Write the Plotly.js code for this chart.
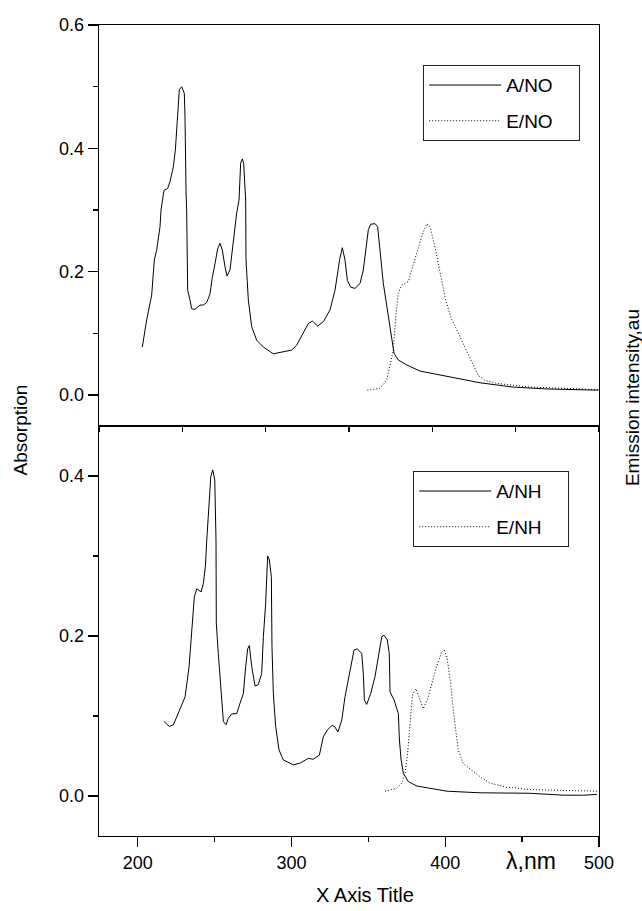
<!DOCTYPE html>
<html>
<head>
<meta charset="utf-8">
<script src="https://cdn.plot.ly/plotly-3.0.1.min.js"></script>
<style>html,body{margin:0;padding:0;background:#fff;}#chart{width:642px;height:911px;}</style>
</head>
<body>
<div id="chart"></div>
<script>
// ---- Top panel (NO): absorption and emission ----
var noAbsX = [226.0, 228.6, 231.6, 233.2, 234.6, 236.6, 237.2, 239.0, 241.2, 242.6,
  244.6, 245.8, 247.0, 248.2, 249.6, 251.2, 251.6, 251.8, 252.2, 252.6,
  252.8, 253.2, 254.6, 255.6, 257.6, 260.6, 262.6, 264.6, 266.6, 268.0,
  269.6, 271.2, 272.6, 274.0, 275.6, 276.8, 278.6, 280.0, 281.0, 282.6,
  284.0, 285.0, 286.0, 286.8, 288.0, 288.2, 289.6, 291.6, 294.6, 298.6,
  304.6, 309.6, 315.6, 318.6, 322.6, 325.6, 328.0, 331.2, 334.6, 338.6,
  341.6, 344.4, 346.0, 347.6, 349.0, 351.0, 353.6, 356.6, 358.6, 360.2,
  361.6, 363.0, 365.6, 367.2, 368.6, 369.6, 370.6, 372.2, 374.0, 375.6,
  377.0, 379.6, 384.6, 392.6, 408.6, 428.6, 448.6, 468.6, 499.6];
var noAbsY = [0.078, 0.122, 0.162, 0.219, 0.235, 0.273, 0.300, 0.332, 0.335, 0.346,
  0.370, 0.397, 0.446, 0.495, 0.500, 0.489, 0.451, 0.381, 0.332, 0.300,
  0.250, 0.170, 0.154, 0.140, 0.139, 0.146, 0.146, 0.150, 0.164, 0.191,
  0.213, 0.237, 0.246, 0.235, 0.208, 0.193, 0.203, 0.235, 0.268, 0.295,
  0.316, 0.376, 0.383, 0.376, 0.316, 0.219, 0.154, 0.111, 0.089, 0.078,
  0.067, 0.070, 0.073, 0.081, 0.100, 0.116, 0.120, 0.112, 0.119, 0.138,
  0.170, 0.220, 0.239, 0.219, 0.186, 0.175, 0.173, 0.181, 0.203, 0.235,
  0.268, 0.277, 0.278, 0.273, 0.240, 0.208, 0.181, 0.154, 0.122, 0.089,
  0.068, 0.057, 0.049, 0.039, 0.030, 0.020, 0.013, 0.010, 0.008];
var noEmX = [361.0, 368.6, 372.6, 375.0, 376.6, 378.0, 379.6, 381.6, 385.6, 387.6,
  390.6, 393.6, 396.6, 398.6, 401.6, 404.6, 407.6, 411.0, 414.2, 418.6,
  423.6, 427.6, 431.6, 438.6, 458.6, 499.6];
var noEmY = [0.008, 0.011, 0.024, 0.051, 0.073, 0.127, 0.165, 0.178, 0.184, 0.203,
  0.230, 0.257, 0.278, 0.273, 0.240, 0.197, 0.159, 0.127, 0.108, 0.084,
  0.054, 0.032, 0.024, 0.019, 0.013, 0.009];

// ---- Bottom panel (NH): absorption and emission ----
var nhAbsX = [217.1, 220.5, 223.2, 226.4, 230.8, 233.4, 235.1, 236.8, 238.4, 241.2,
  242.7, 244.0, 244.9, 245.9, 247.5, 248.8, 250.1, 250.9, 251.1, 252.4,
  254.2, 255.7, 257.4, 258.9, 261.1, 264.4, 266.5, 268.7, 270.2, 271.5,
  272.6, 274.1, 276.3, 278.4, 280.6, 281.7, 283.2, 284.5, 285.6, 286.9,
  287.3, 288.2, 289.7, 291.9, 294.7, 301.2, 305.5, 310.9, 314.2, 318.1,
  320.7, 323.3, 326.2, 328.0, 330.2, 332.7, 334.8, 337.0, 339.2, 340.7,
  342.8, 345.7, 346.7, 347.4, 348.9, 351.5, 354.3, 356.5, 358.7, 360.2,
  362.3, 363.6, 364.1, 366.7, 369.5, 370.2, 371.3, 372.8, 376.0, 381.5,
  390.1, 401.0, 422.7, 455.2, 476.9, 489.9, 498.5];
var nhAbsY = [0.093, 0.087, 0.089, 0.103, 0.124, 0.162, 0.203, 0.249, 0.259, 0.255,
  0.266, 0.287, 0.320, 0.353, 0.399, 0.4075, 0.395, 0.320, 0.216, 0.178,
  0.1325, 0.093, 0.089, 0.097, 0.1025, 0.103, 0.116, 0.128, 0.162, 0.184,
  0.188, 0.162, 0.1375, 0.139, 0.153, 0.199, 0.241, 0.300, 0.295, 0.274,
  0.187, 0.128, 0.087, 0.0575, 0.045, 0.039, 0.041, 0.047, 0.046, 0.051,
  0.074, 0.0825, 0.088, 0.087, 0.080, 0.095, 0.124, 0.145, 0.170, 0.1825,
  0.184, 0.178, 0.153, 0.120, 0.1145, 0.128, 0.149, 0.174, 0.199, 0.201,
  0.195, 0.178, 0.130, 0.120, 0.103, 0.070, 0.045, 0.028, 0.018, 0.0125,
  0.0096, 0.006, 0.004, 0.0034, 0.001, 0.001, 0.002];
var nhEmX = [360.8, 368.4, 371.7, 373.8, 375.3, 377.1, 378.8, 381.0, 383.1, 385.7,
  388.3, 391.2, 394.4, 397.7, 399.4, 401.4, 403.5, 405.7, 408.5, 411.7,
  417.2, 422.7, 429.1, 440.0, 455.2, 476.9, 499.5];
var nhEmY = [0.006, 0.0096, 0.016, 0.028, 0.049, 0.091, 0.128, 0.134, 0.122, 0.109,
  0.120, 0.1405, 0.162, 0.180, 0.183, 0.170, 0.1405, 0.099, 0.0575, 0.0405,
  0.0325, 0.024, 0.016, 0.011, 0.008, 0.0066, 0.006];

var seriesNames = ['A/NO', 'E/NO', 'A/NH', 'E/NH'];
var xTickVals = [200, 300, 400, 500];

var FONT = 'Liberation Sans, Arial, Helvetica, sans-serif';
var PAD = '\u00a0\u00a0\u00a0\u00a0';
var solid = {color: '#000', width: 1, dash: 'solid'};
var dotted = {color: '#000', width: 1, dash: '1px,2px'};

var traces = [
  {x: noAbsX, y: noAbsY, name: seriesNames[0] + PAD, mode: 'lines', line: solid, xaxis: 'x2', yaxis: 'y2', legend: 'legend', legendgroup: 'a'},
  {x: noEmX, y: noEmY, name: seriesNames[1] + PAD, mode: 'lines', line: dotted, xaxis: 'x2', yaxis: 'y2', legend: 'legend', legendgroup: 'b'},
  {x: nhAbsX, y: nhAbsY, name: seriesNames[2] + PAD, mode: 'lines', line: solid, xaxis: 'x', yaxis: 'y', legend: 'legend2', legendgroup: 'c'},
  {x: nhEmX, y: nhEmY, name: seriesNames[3] + PAD, mode: 'lines', line: dotted, xaxis: 'x', yaxis: 'y', legend: 'legend2', legendgroup: 'd'}
];

var axCommon = {
  showline: true, linecolor: '#000', linewidth: 1.3, mirror: true,
  showgrid: false, zeroline: false, ticks: 'outside', tickcolor: '#000',
  tickwidth: 1.3, tickfont: {family: FONT, size: 18, color: '#000'}
};
function ax(extra) { return Object.assign({}, axCommon, extra); }

var legCommon = {
  font: {family: FONT, size: 19, color: '#000'},
  bordercolor: '#222', borderwidth: 1.2, bgcolor: '#fff',
  xanchor: 'left', yanchor: 'top', traceorder: 'grouped', tracegroupgap: 8,
  itemwidth: 72
};

function note(text, x, y, size, angle) {
  return {text: text, xref: 'paper', yref: 'paper', x: x, y: y, textangle: angle || 0,
    xanchor: 'center', yanchor: 'middle', showarrow: false,
    font: {family: FONT, size: size, color: '#000'}};
}

var layout = {
  width: 642, height: 911,
  margin: {l: 99, r: 43, t: 25, b: 75},
  paper_bgcolor: '#fff', plot_bgcolor: '#fff',
  showlegend: true,
  font: {family: FONT, color: '#000'},
  xaxis: ax({anchor: 'y', range: [174.8, 500], tickvals: xTickVals, ticklen: 10,
    minor: {dtick: 50, ticklen: 5, ticks: 'outside', tickcolor: '#000', tickwidth: 1.3}}),
  yaxis: ax({domain: [0, 0.5056], range: [-0.05, 0.4625], dtick: 0.2, tickformat: '.1f', ticklen: 10,
    minor: {dtick: 0.1, ticklen: 5, ticks: 'outside', tickcolor: '#000', tickwidth: 1.3}}),
  xaxis2: ax({anchor: 'y2', range: [200, 500], dtick: 50, ticklen: 5, showticklabels: false}),
  yaxis2: ax({domain: [0.5056, 1], range: [-0.05, 0.6], dtick: 0.2, tickformat: '.1f', ticklen: 10,
    minor: {dtick: 0.1, ticklen: 5, ticks: 'outside', tickcolor: '#000', tickwidth: 1.3}}),
  legend: Object.assign({}, legCommon, {x: 0.648, y: 0.9507}),
  legend2: Object.assign({}, legCommon, {x: 0.628, y: 0.4501}),
  annotations: [
    note('Absorption', -0.158, 0.5, 19, -90),
    note('Emission intensity,au', 1.066, 0.54, 19, -90),
    note('X Axis Title', 0.532, -0.0727, 20, 0),
    note('λ,nm', 0.864, -0.031, 23, 0)
  ]
};

Plotly.newPlot('chart', traces, layout, {displayModeBar: false, staticPlot: true});
</script>
</body>
</html>
